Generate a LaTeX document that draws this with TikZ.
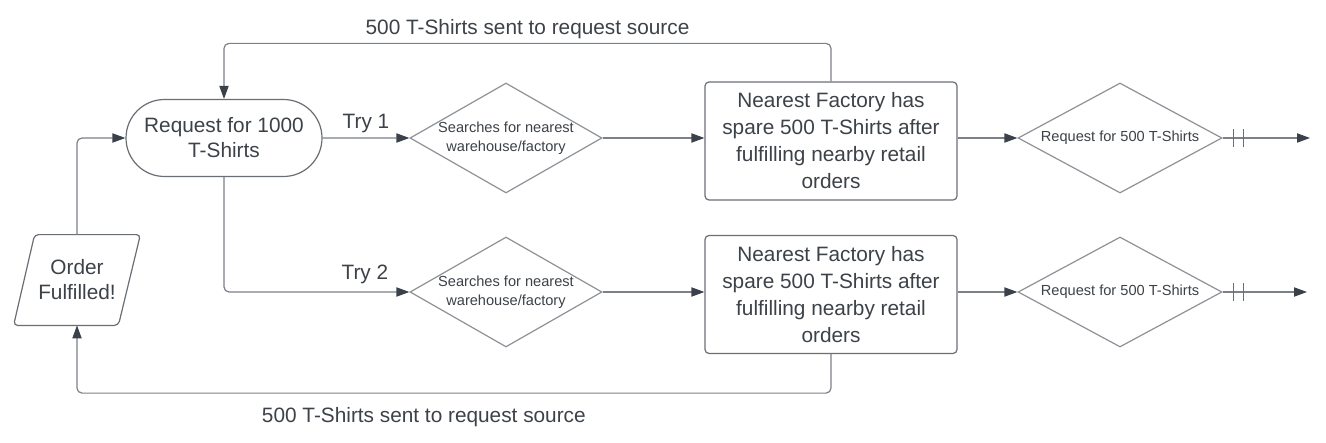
\documentclass[tikz,border=0pt]{standalone}
\usepackage{fontspec}
\setmainfont{Liberation Sans}
\usetikzlibrary{shapes.geometric,shapes.misc,arrows.meta,positioning}

\definecolor{txtgray}{HTML}{3C4248}
\definecolor{boxgray}{HTML}{6A6F76}
\definecolor{diagray}{HTML}{8E9298}
\definecolor{linegray}{HTML}{7C8188}
\definecolor{tipgray}{HTML}{3A414A}

\begin{document}
\begin{tikzpicture}[x=0.5pt, y=-0.5pt,
font=\fontsize{10.4}{12.5}\selectfont, text=txtgray,
startstop/.style={rounded rectangle, draw=boxgray, line width=0.6pt, minimum width=98pt, minimum height=38.5pt, inner sep=0pt, align=center},
decision/.style={diamond, shape aspect=1.745, draw=diagray, line width=0.6pt, minimum width=96pt, minimum height=55pt, inner sep=0pt, align=center, font=\fontsize{7.3}{9.3}\selectfont},
wide decision/.style={decision, shape aspect=1.855, minimum width=102pt},
process/.style={rectangle, rounded corners=2pt, draw=boxgray, line width=0.6pt, minimum width=126pt, minimum height=59pt, inner sep=0pt, align=center, font=\fontsize{10.4}{13.5}\selectfont},
output/.style={rectangle, minimum width=63pt, minimum height=45pt, inner sep=0pt, align=center},
flow/.style={draw=linegray, line width=0.6pt, rounded corners=2.5pt, -{Triangle[length=6.5pt, width=4.6pt, color=tipgray]}},
crossbar/.style={draw=boxgray, line width=0.6pt},
]
\path[fill=white] (0,0) rectangle (1326,443);
\useasboundingbox (0,0) rectangle (1326,443);

% first try
\node[startstop] (req) at (224,138) {Request for 1000\\T-Shirts};
\node[decision] (d1) at (506,138) {Searches for nearest\\warehouse/factory};
\node[process] (box1) at (831,141) {Nearest Factory has\\spare 500 T-Shirts after\\fulfilling nearby retail\\orders};
\node[wide decision] (d3) at (1120,138) {Request for 500 T-Shirts};
\coordinate (end1) at (1310,138);

% second try
\node[decision] (d2) at (506,292) {Searches for nearest\\warehouse/factory};
\node[process] (box2) at (831,294.5) {Nearest Factory has\\spare 500 T-Shirts after\\fulfilling nearby retail\\orders};
\node[wide decision] (d4) at (1120,292) {Request for 500 T-Shirts};
\coordinate (end2) at (1307,292);

% slanted output box
\node[output] (order) at (77,280) {Order\\Fulfilled!};
\draw[boxgray, line width=0.6pt, rounded corners=2pt] (order.south west)
  -- ([xshift=-11pt]order.south east) -- (order.north east)
  -- ([xshift=10.5pt]order.north west) -- cycle;

\draw[flow] (req) -- node[above=-1pt] {Try 1} (d1);
\draw[flow] (req.south) |- node[pos=0.88, above=0.5pt] {Try 2} (d2.west);
\draw[flow] (d1.east) -- (d1.east -| box1.west);
\draw[flow] (d2.east) -- (d2.east -| box2.west);
\draw[flow] (box1.east |- d3.west) -- (d3.west);
\draw[flow] (box2.east |- d4.west) -- (d4.west);
\draw[flow] (d3.east) -- (end1);
\draw[flow] (d4.east) -- (end2);
\foreach \dd in {d3,d4} {
  \draw[crossbar] ([xshift=5.5pt]\dd.east) ++(0,-9) -- ++(0,18);
  \draw[crossbar] ([xshift=10.5pt]\dd.east) ++(0,-9) -- ++(0,18);
}

% back to the source
\draw[flow] (box1.north) -- ++(0,-38) coordinate (tr) -- (tr -| req.north)
  node[midway, above=-1.5pt] {500 T-Shirts sent to request source} -- (req.north);
\draw[flow] (box2.south) -- ++(0,39) coordinate (br) -- (br -| order.south)
  node[pos=0.54, below=3.5pt] {500 T-Shirts sent to request source} -- (order.south);
\draw[flow] (order.north) |- (req.west);
\end{tikzpicture}
\end{document}
